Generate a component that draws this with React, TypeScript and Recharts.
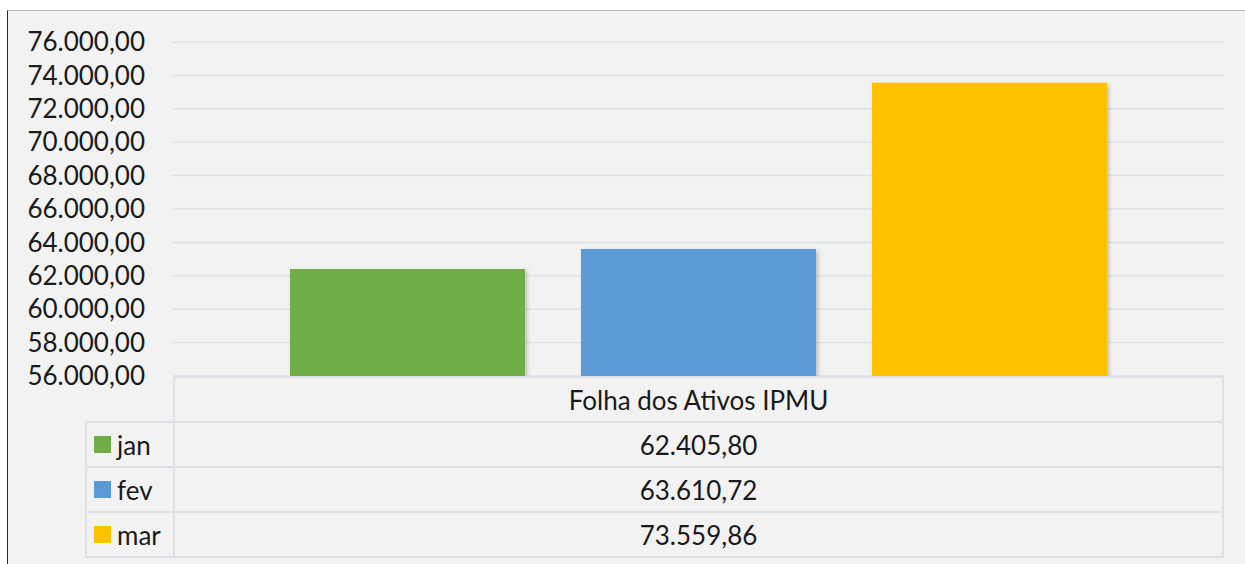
import React from 'react';
import { BarChart, Bar, XAxis, YAxis, CartesianGrid } from 'recharts';

// Values (Excel chart with data table)
const months = ['jan', 'fev', 'mar'];
const values = [62405.8, 63610.72, 73559.86];
const colors = ['#70ad47', '#5b9bd5', '#ffc000'];
const categories = ['Folha dos Ativos IPMU'];
const yTicks = [56000, 58000, 60000, 62000, 64000, 66000, 68000, 70000, 72000, 74000, 76000];

const FONT = 'Lato, "Open Sans", sans-serif';
const LINE = '#dde1e7';

// pt-BR number format: 62.405,80
const fmt = (v: number) => {
  const [int, dec] = v.toFixed(2).split('.');
  return int.replace(/\B(?=(\d{3})+(?!\d))/g, '.') + ',' + dec;
};

const data = categories.map((name) => {
  const row: any = { name };
  months.forEach((m, i) => {
    row[m] = values[i];
  });
  return row;
});

// plot box (matches chart margins below)
const PLOT_LEFT = 173;
const PLOT_RIGHT = 1224;
const PLOT_BOTTOM = 376;
const ROW_H = 45;
const KEY_LEFT = 85;

const DataTable: React.FC = () => {
  // cells overlap by the border width so shared edges draw once
  const cell = (top: number, left: number, width: number): React.CSSProperties => ({
    position: 'absolute',
    top,
    left,
    width,
    height: ROW_H + 2,
    boxSizing: 'border-box',
    border: `2px solid ${LINE}`,
    display: 'flex',
    alignItems: 'center',
    fontFamily: FONT,
    fontSize: 26,
    color: '#1a1a1a',
  });
  return (
    <>
      <div style={{ ...cell(PLOT_BOTTOM, PLOT_LEFT, PLOT_RIGHT - PLOT_LEFT), justifyContent: 'center' }}>
        {categories[0]}
      </div>
      {months.map((m, i) => {
        const top = PLOT_BOTTOM + ROW_H * (i + 1);
        return (
          <React.Fragment key={m}>
            <div style={{ ...cell(top, KEY_LEFT, PLOT_LEFT - KEY_LEFT + 2) }}>
              <span style={{ width: 17, height: 17, background: colors[i], marginLeft: 7, marginRight: 6 }} />
              <span>{m}</span>
            </div>
            <div style={{ ...cell(top, PLOT_LEFT, PLOT_RIGHT - PLOT_LEFT), justifyContent: 'center' }}>
              {fmt(values[i])}
            </div>
          </React.Fragment>
        );
      })}
    </>
  );
};

const App: React.FC = () => {
  return (
    <div style={{ position: 'absolute', left: 0, top: 0, width: 1245, height: 564, background: '#ffffff' }}>
      <div
        style={{
          position: 'absolute',
          left: 7,
          top: 10,
          width: 1238,
          height: 554,
          boxSizing: 'border-box',
          background: '#f2f2f2',
          borderTop: '1px solid #bcbcbc',
          borderLeft: '1px solid #2b2b2b',
        }}
      />
      <div style={{ position: 'absolute', left: 0, top: 0 }}>
        <BarChart
          width={1245}
          height={564}
          data={data}
          margin={{ top: 42, right: 21, bottom: 188, left: 0 }}
          barCategoryGap={117}
          barGap={56}
        >
          <defs>
            <filter id="barShadow" x="-5%" y="-5%" width="115%" height="115%">
              <feDropShadow dx="2" dy="2" stdDeviation="2" floodColor="#000" floodOpacity="0.22" />
            </filter>
          </defs>
          <CartesianGrid vertical={false} stroke={LINE} strokeWidth={1.5} />
          <XAxis dataKey="name" hide />
          <YAxis
            width={173}
            domain={[56000, 76000]}
            ticks={yTicks}
            interval={0}
            allowDataOverflow
            axisLine={false}
            tickLine={false}
            tickSize={0}
            tickMargin={28}
            tickFormatter={fmt}
            tick={{ fill: '#1a1a1a', fontSize: 26, fontFamily: FONT }}
          />
          {months.map((m, i) => (
            <Bar key={m} dataKey={m} fill={colors[i]} isAnimationActive={false} filter="url(#barShadow)" />
          ))}
        </BarChart>
      </div>
      <DataTable />
    </div>
  );
};

export default App;
